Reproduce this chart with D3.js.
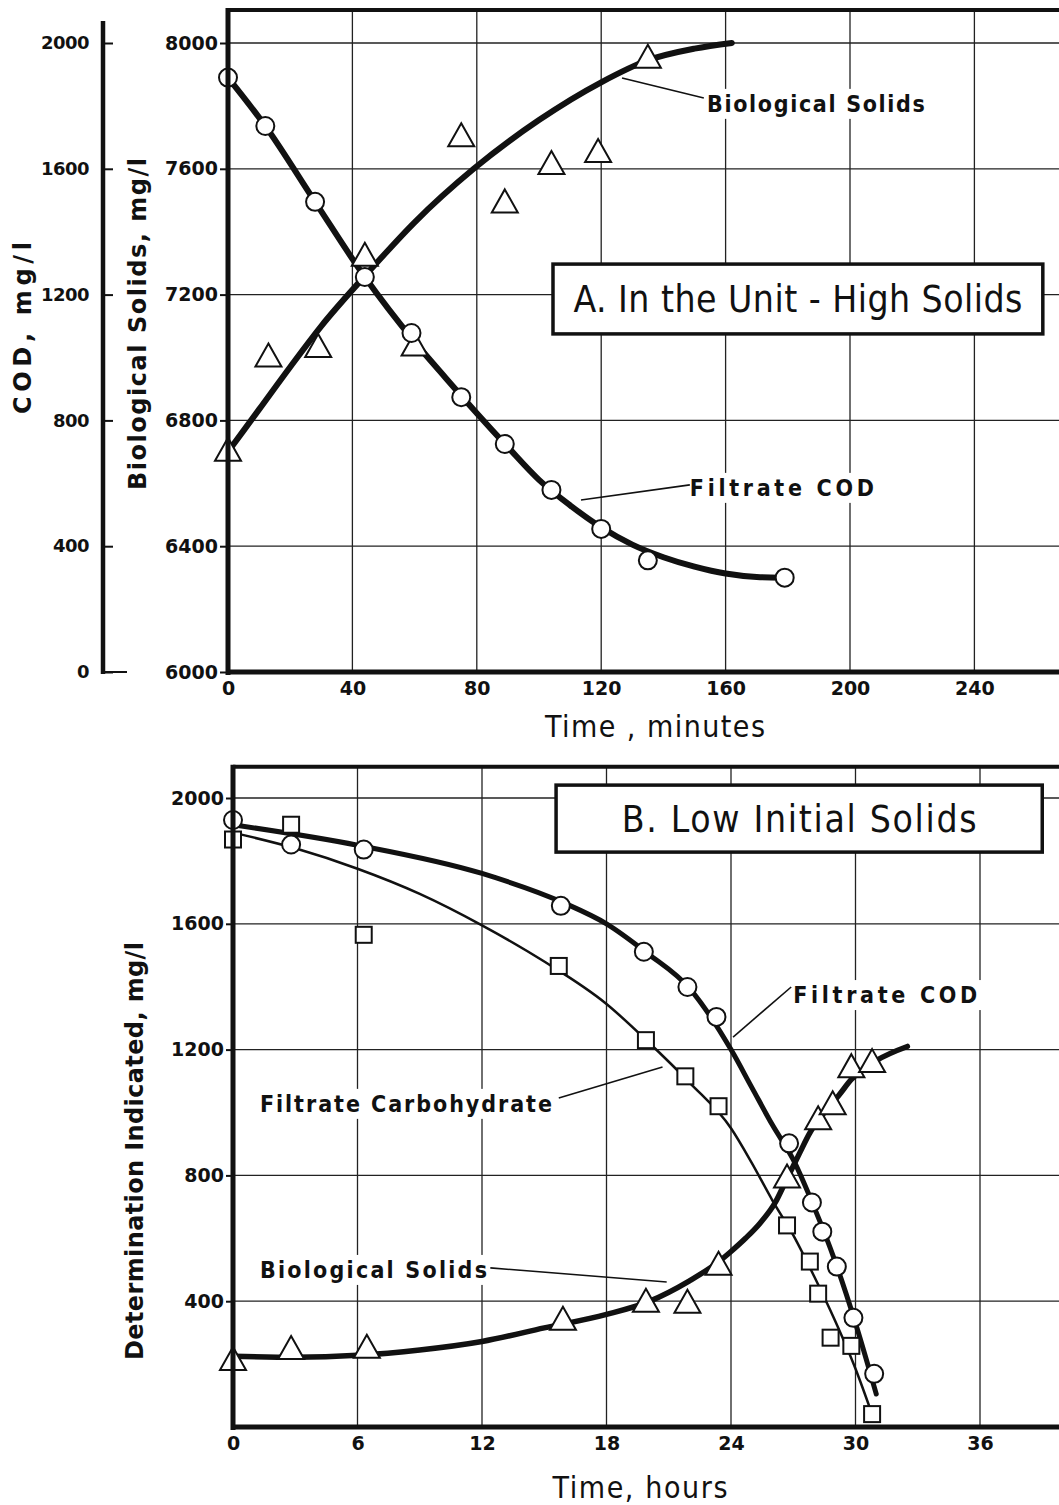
<!DOCTYPE html>
<html>
<head>
    <title>COD and Biological Solids</title>
    <script src="https://cdnjs.cloudflare.com/ajax/libs/d3/7.8.5/d3.min.js"></script>
    <style>
        body { margin: 0; background: white; }
        svg { display: block; }
        .tick-label { font-family: "DejaVu Sans", sans-serif; font-weight: bold; font-size: 19px; fill: #111; }
        .axis-title { font-family: "DejaVu Sans", sans-serif; font-weight: bold; font-size: 24px; fill: #111; }
        .narrow { font-family: "Liberation Sans Narrow", "DejaVu Sans Condensed", sans-serif; fill: #111; }
    </style>
</head>
<body>
<svg width="1059" height="1505"></svg>
<script>
// ---------- Panel A: In the Unit - High Solids (time in minutes) ----------
const aTicksX = [0, 40, 80, 120, 160, 200, 240];
const aTicksBio = [6000, 6400, 6800, 7200, 7600, 8000];
const aTicksCod = [0, 400, 800, 1200, 1600, 2000];

// measured points
const aCodPts = [[0, 1890], [12, 1736], [28, 1495], [44, 1256], [59, 1078], [75, 874],
                 [89, 725], [104, 579], [120, 455], [135, 355], [179, 300]];
const aBioPts = [[0, 6700], [13, 7000], [29, 7030], [44, 7320], [60, 7035], [75, 7700],
                 [89, 7490], [104, 7612], [119, 7650], [135, 7950]];
// fitted curves as drawn
const aCodCurve = [[0, 1890], [12, 1736], [28, 1495], [44, 1256], [60, 1050], [70, 935],
                   [80, 823], [90, 715], [100, 611], [110, 530], [120, 460], [130, 405],
                   [140, 365], [150, 335], [160, 313], [170, 302], [178, 300]];
const aBioCurve = [[0, 6700], [10, 6835], [20, 6970], [30, 7100], [44, 7259], [60, 7430],
                   [79, 7600], [100, 7755], [120, 7875], [135, 7945], [150, 7982], [162, 8000]];

// ---------- Panel B: Low Initial Solids (time in hours) ----------
const bTicksX = [0, 6, 12, 18, 24, 30, 36];
const bTicksY = [400, 800, 1200, 1600, 2000];

const bCodPts = [[0, 1930], [2.8, 1852], [6.3, 1836], [15.8, 1657], [19.8, 1511], [21.9, 1399],
                 [23.3, 1304], [26.8, 902], [27.9, 714], [28.4, 621], [29.1, 510], [29.9, 347], [30.9, 169]];
const bCarbPts = [[0, 1868], [2.8, 1915], [6.3, 1565], [15.7, 1466], [19.9, 1230], [21.8, 1115],
                  [23.4, 1020], [26.7, 641], [27.8, 526], [28.2, 424], [28.8, 284], [29.8, 258], [30.8, 41]];
const bBioPts = [[0, 210], [2.8, 245], [6.45, 249], [15.9, 338], [19.9, 395], [21.9, 392],
                 [23.4, 513], [26.7, 790], [28.2, 975], [28.9, 1023], [29.8, 1141], [30.8, 1157]];

const bCodCurve = [[0, 1915], [6, 1850], [12, 1760], [16, 1665], [18, 1600], [20, 1505], [22, 1395],
                   [24, 1200], [25, 1080], [26, 960], [27, 850], [28, 700], [29, 530], [30, 330], [31, 105]];
const bCarbCurve = [[0, 1890], [3, 1840], [6, 1775], [9, 1695], [12, 1595], [15, 1480], [18, 1345],
                    [20, 1225], [22, 1095], [24, 950], [25, 840], [26, 720], [27, 610], [28, 480],
                    [29, 340], [30, 185], [30.8, 40]];
const bBioCurve = [[0, 225], [3, 222], [6, 228], [9, 245], [12, 272], [15, 315], [18, 358], [20, 398],
                   [22, 465], [23.4, 525], [24, 558], [24.7, 600], [25.4, 648], [26.1, 710], [26.7, 790],
                   [27.3, 870], [27.8, 935], [28.5, 1000], [29.2, 1055], [29.8, 1105], [31, 1165], [32.5, 1210]];

const svg = d3.select("svg");
svg.append("rect").attr("width", 1059).attr("height", 1505).attr("fill", "white");

// scales
const xA = d3.scaleLinear().domain([0, 280]).range([228, 228 + 280 * 3.11]);
const yBio = d3.scaleLinear().domain([6000, 8000]).range([672, 43]);
const yCod = d3.scaleLinear().domain([0, 2000]).range([672, 43]);
const xB = d3.scaleLinear().domain([0, 42]).range([233, 233 + 42 * 20.75]);
const yB = d3.scaleLinear().domain([0, 2000]).range([1427, 798]);

const gA = svg.append("g");
const gB = svg.append("g");

function grid(g, x, y, xt, yt, top) {
    xt.filter(d => d > 0).concat([x.domain()[1]]).forEach(d => {
        g.append("line").attr("x1", x(d)).attr("x2", x(d))
         .attr("y1", y(top)).attr("y2", y(y.domain()[0]))
         .attr("stroke", "#222").attr("stroke-width", 1.3);
    });
    yt.filter(d => d > y.domain()[0]).forEach(d => {
        g.append("line").attr("x1", x(0)).attr("x2", x(x.domain()[1]))
         .attr("y1", y(d)).attr("y2", y(d))
         .attr("stroke", "#222").attr("stroke-width", 1.3);
    });
}
grid(gA, xA, yBio, aTicksX, aTicksBio, 8105);
grid(gB, xB, yB, bTicksX, bTicksY, 2099);

// labels with white backing that break the grid
function label(g, x, y, text, size, len) {
    const t = g.append("text").attr("x", x).attr("y", y)
        .attr("class", "narrow").attr("font-size", size)
        .attr("font-weight", "bold")
        .attr("textLength", len).attr("lengthAdjust", "spacing")
        .text(text);
    const bb = t.node().getBBox();
    g.insert("rect", "text").attr("x", bb.x - 4).attr("y", bb.y - 2)
        .attr("width", bb.width + 8).attr("height", bb.height + 4).attr("fill", "white");
    return t;
}

function leader(g, x, y, p, q) {
    g.append("line").attr("x1", x(p[0])).attr("y1", y(p[1]))
     .attr("x2", x(q[0])).attr("y2", y(q[1]))
     .attr("stroke", "#111").attr("stroke-width", 1.6);
}

function boxTitle(g, x, y, a, b, text, len) {
    g.append("rect").attr("x", x(a[0])).attr("y", y(a[1]))
     .attr("width", x(b[0]) - x(a[0])).attr("height", y(b[1]) - y(a[1]))
     .attr("fill", "white").attr("stroke", "#111").attr("stroke-width", 3.5);
    g.append("text").attr("x", (x(a[0]) + x(b[0])) / 2).attr("y", (y(a[1]) + y(b[1])) / 2 + 13)
     .attr("text-anchor", "middle").attr("class", "narrow")
     .attr("font-size", 37).attr("textLength", len).attr("lengthAdjust", "spacing")
     .text(text);
}

// annotations panel A
label(gA, xA(154), yBio(7781), "Biological  Solids", 23, 218);
leader(gA, xA, yBio, [126.7, 7889], [153, 7825]);
label(gA, xA(148.5), yCod(560), "Filtrate  COD", 23, 184);
leader(gA, xA, yCod, [113.5, 547], [148.5, 595]);
boxTitle(gA, xA, yBio, [104.5, 7297], [262, 7075], "A.  In  the  Unit - High  Solids", 449);

// annotations panel B
boxTitle(gB, xB, yB, [15.57, 2041], [39, 1828], "B.  Low  Initial  Solids", 355);
label(gB, xB(27), yB(1348), "Filtrate  COD", 23, 184);
leader(gB, xB, yB, [24.1, 1240], [26.9, 1399]);
label(gB, xB(1.3), yB(1002), "Filtrate  Carbohydrate", 23, 292);
leader(gB, xB, yB, [15.7, 1046], [20.7, 1145]);
label(gB, xB(1.3), yB(474), "Biological  Solids", 23, 227);
leader(gB, xB, yB, [12.4, 506], [20.9, 461]);

// curves
function curve(g, x, y, pts, w) {
    g.append("path").datum(pts)
     .attr("d", d3.line().x(d => x(d[0])).y(d => y(d[1])).curve(d3.curveMonotoneX))
     .attr("fill", "none").attr("stroke", "#111").attr("stroke-width", w)
     .attr("stroke-linecap", "round").attr("stroke-linejoin", "round");
}
curve(gA, xA, yBio, aBioCurve, 6);
curve(gA, xA, yCod, aCodCurve, 6);
curve(gB, xB, yB, bCarbCurve, 2.5);
curve(gB, xB, yB, bCodCurve, 5);
curve(gB, xB, yB, bBioCurve, 5.5);

// markers
function circles(g, x, y, pts) {
    g.selectAll(null).data(pts).enter().append("circle")
     .attr("cx", d => x(d[0])).attr("cy", d => y(d[1])).attr("r", 9)
     .attr("fill", "white").attr("stroke", "#111").attr("stroke-width", 2);
}
function triangles(g, x, y, pts) {
    g.selectAll(null).data(pts).enter().append("path")
     .attr("d", d => {
         const cx = x(d[0]), cy = y(d[1]);
         return `M${cx},${cy - 14}L${cx + 13},${cy + 9}L${cx - 13},${cy + 9}Z`;
     })
     .attr("fill", "white").attr("stroke", "#111").attr("stroke-width", 2);
}
function squares(g, x, y, pts) {
    g.selectAll(null).data(pts).enter().append("rect")
     .attr("x", d => x(d[0]) - 8).attr("y", d => y(d[1]) - 8)
     .attr("width", 16).attr("height", 16)
     .attr("fill", "white").attr("stroke", "#111").attr("stroke-width", 2);
}
triangles(gA, xA, yBio, aBioPts);
circles(gA, xA, yCod, aCodPts);
squares(gB, xB, yB, bCarbPts);
circles(gB, xB, yB, bCodPts);
triangles(gB, xB, yB, bBioPts);

// frames and axes
function frame(g, x, y, top) {
    g.append("line").attr("x1", x(0)).attr("x2", 1059).attr("y1", y(top)).attr("y2", y(top))
     .attr("stroke", "#111").attr("stroke-width", 4);
    g.append("line").attr("x1", x(0)).attr("x2", x(0)).attr("y1", y(top) - 2).attr("y2", y(y.domain()[0]) + 3)
     .attr("stroke", "#111").attr("stroke-width", 5);
    g.append("line").attr("x1", x(0) - 2).attr("x2", 1059).attr("y1", y(y.domain()[0])).attr("y2", y(y.domain()[0]))
     .attr("stroke", "#111").attr("stroke-width", 5);
}
frame(gA, xA, yBio, 8105);
frame(gB, xB, yB, 2099);

function styleAxis(sel) {
    sel.select(".domain").remove();
    sel.selectAll(".tick line").attr("stroke", "#111").attr("stroke-width", 2);
    sel.selectAll(".tick text").attr("class", "tick-label").attr("fill", "#111");
}
const fmt = d3.format("d");

// panel A axes
gA.append("g").attr("transform", `translate(${xA(0) - 2},0)`)
  .call(d3.axisLeft(yBio).tickValues(aTicksBio).tickFormat(fmt).tickSize(6).tickPadding(2))
  .call(styleAxis);
gA.append("g").attr("transform", `translate(0,${yBio(6000) + 2})`)
  .call(d3.axisBottom(xA).tickValues(aTicksX).tickFormat(fmt).tickSize(0).tickPadding(8))
  .call(styleAxis);

// separate COD axis
const codAxis = gA.append("g").attr("transform", "translate(103,0)");
codAxis.call(d3.axisLeft(yCod).tickValues(aTicksCod).tickFormat(fmt).tickSize(8).tickPadding(6)).call(styleAxis);
codAxis.selectAll(".tick line").attr("x2", 10);
codAxis.selectAll(".tick text").style("font-size", "18px").style("letter-spacing", "-0.5px");
codAxis.append("line").attr("x1", 0).attr("x2", 0).attr("y1", yCod(2070)).attr("y2", yCod(0) + 2)
  .attr("stroke", "#111").attr("stroke-width", 4.5);
codAxis.append("line").attr("x1", 0).attr("x2", 24).attr("y1", yCod(0)).attr("y2", yCod(0))
  .attr("stroke", "#111").attr("stroke-width", 2);

// panel B axes
gB.append("g").attr("transform", `translate(${xB(0) - 2},0)`)
  .call(d3.axisLeft(yB).tickValues(bTicksY).tickFormat(fmt).tickSize(5).tickPadding(2))
  .call(styleAxis);
gB.append("g").attr("transform", `translate(0,${yB(0) + 2})`)
  .call(d3.axisBottom(xB).tickValues(bTicksX).tickFormat(fmt).tickSize(0).tickPadding(8))
  .call(styleAxis);

// axis titles
function vTitle(cx, cy, text, len) {
    svg.append("text").attr("class", "axis-title")
       .attr("transform", `translate(${cx},${cy}) rotate(-90)`).attr("text-anchor", "middle")
       .attr("dy", "0.36em")
       .attr("textLength", len).attr("lengthAdjust", "spacing").text(text);
}
vTitle(22, 328, "COD,  mg/l", 172);
vTitle(137, 324, "Biological  Solids,  mg/l", 332);
vTitle(134, 1151, "Determination  Indicated,  mg/l", 418);

svg.append("text").attr("class", "narrow").attr("font-size", 30)
   .attr("x", 655).attr("y", 737).attr("text-anchor", "middle")
   .attr("textLength", 220).attr("lengthAdjust", "spacing").text("Time , minutes");
svg.append("text").attr("class", "narrow").attr("font-size", 30)
   .attr("x", 640).attr("y", 1498).attr("text-anchor", "middle")
   .attr("textLength", 175).attr("lengthAdjust", "spacing").text("Time, hours");
</script>
</body>
</html>
